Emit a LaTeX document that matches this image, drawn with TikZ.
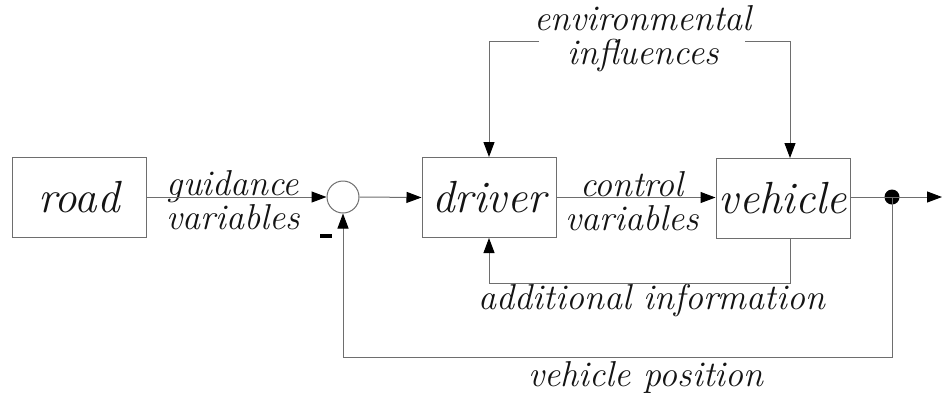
\documentclass[tikz,border=0pt]{standalone}
\usetikzlibrary{arrows.meta}
\definecolor{linegray}{RGB}{110,110,110}
\definecolor{txt}{RGB}{20,20,20}
\begin{document}
\begin{tikzpicture}[x=1pt,y=-1pt,
  blk/.style={draw=linegray, line width=1pt, minimum width=134pt, minimum height=80pt, inner sep=0pt, text=txt, font=\fontsize{45}{47}\selectfont\itshape},
  lbl/.style={font=\fontsize{36}{34}\selectfont\itshape, align=center, inner sep=0pt, text=txt},
  conn/.style={draw=linegray, line width=1pt},
  arr/.style={conn, -{Triangle[length=15pt,width=11pt,color=black]}}
]
\useasboundingbox[fill=white] (0,0) rectangle (942,392);

\node[blk] (road) at (79,197) {road};
\node[draw=linegray, line width=1pt, circle, minimum size=32pt, inner sep=0pt] (sum) at (343,197) {};
\node[blk] (driver) at (489,197.5) {driver};
\node[blk] (vehicle) at (783,198) {vehicle};
\node[circle, fill=black, minimum size=15pt, inner sep=0pt] (dot) at (892,197) {};
\coordinate (out) at (942,197);

% labels
\node[lbl] (guid) at (233,200) {guidance\\variables};
\node[lbl] (ctrl) at (632,201) {control\\variables};
\node[lbl] (env) at (643,39) {environmental\\influences};
\node[lbl] (addinfo) at (652,300) {additional information};
\node[lbl] (vpos) at (646,377) {vehicle position};
\node[fill=black, minimum width=12pt, minimum height=3.5pt, inner sep=0pt] (minus) at (326,236) {};

% forward path
\draw[arr] (road.east) -- (sum.west);
\draw[arr] (sum.east) -- (driver.west);
\draw[arr] (driver.east) -- (vehicle.west |- driver.east);
\draw[conn] (vehicle.east |- dot) -- (dot.center);
\draw[arr] (dot.center) -- (out);

% environmental influences
\coordinate (envL) at (539,41);
\coordinate (envR) at (745,41);
\draw[arr] (envL) -- (489,41) -- (driver.north);
\draw[arr] (envR) -- (790,41) -- (790,158);

% additional information
\draw[arr] (790,238) -- (790,283) -- (489,283) -- (driver.south);

% vehicle position
\draw[arr] (dot.center) -- (892,357) -- (343,357) -- (sum.south);
\end{tikzpicture}
\end{document}
